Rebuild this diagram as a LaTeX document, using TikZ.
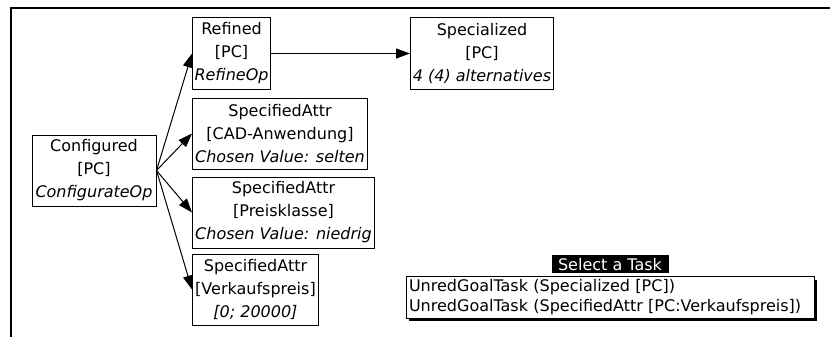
\documentclass[tikz,border=0pt]{standalone}
\usepackage{fontspec}
\setmainfont{DejaVu Sans}
\usetikzlibrary{arrows.meta, positioning, shadows}

\begin{document}
\begin{tikzpicture}[
    x=1pt, y=-1pt,
    font=\fontsize{16}{23}\selectfont,
    node distance=7pt,
    block/.style={rectangle, draw, line width=1pt, minimum height=71pt, inner xsep=2pt, inner ysep=3pt, align=center},
    arrow/.style={-{Triangle[length=14pt, width=10pt]}, line width=1pt}
]
\useasboundingbox (0,0) rectangle (830,337);
\draw[line width=2.5pt] (830,8) -- (11,8) -- (11,337);

\node[block, minimum width=124pt] (configured) at (94,170.5) {Configured \\ {[PC]} \\ \textit{ConfigurateOp}};
\node[block, minimum width=78pt, anchor=west] (refined) at (192,53.5) {Refined \\ {[PC]} \\ \textit{RefineOp}};
\node[block, minimum width=143pt, anchor=west] (specialized) at (410,53.5) {Specialized \\ {[PC]} \\ \textit{4 (4) alternatives}};
\node[block, minimum width=175pt, below=8pt of refined.south west, anchor=north west] (cad) {SpecifiedAttr \\ {[CAD-Anwendung]} \\ \textit{Chosen Value: selten}};
\node[block, minimum width=182pt, below=7pt of cad.south west, anchor=north west] (preisklasse) {SpecifiedAttr \\ {[Preisklasse]} \\ \textit{Chosen Value: niedrig}};
\node[block, minimum width=126pt, below=5pt of preisklasse.south west, anchor=north west] (verkaufspreis) {SpecifiedAttr \\ {[Verkaufspreis]} \\ \textit{[0; 20000]}};

\draw[arrow] (refined) -- (specialized);
\draw[arrow] (configured.east) -- (refined.west);
\draw[arrow] (configured.east) -- (cad.west);
\draw[arrow] (configured.east) -- (preisklasse.west);
\draw[arrow] (configured.east) -- (verkaufspreis.west);

% task list with its title bar
\node[draw, line width=1pt, fill=white, align=left, text width=402pt, inner xsep=3pt, inner ysep=3pt,
      font=\fontsize{16}{20}\selectfont,
      drop shadow={shadow xshift=3pt, shadow yshift=-3pt, fill=black, opacity=1}] (tasks) at (610,297.5)
    {UnredGoalTask (Specialized [PC]) \\ UnredGoalTask (SpecifiedAttr [PC:Verkaufspreis])};
\node[fill=black, text=white, inner xsep=3pt, inner ysep=2pt, minimum width=117pt, minimum height=18pt, above=3pt of tasks] (select) {Select a Task};

\end{tikzpicture}
\end{document}
